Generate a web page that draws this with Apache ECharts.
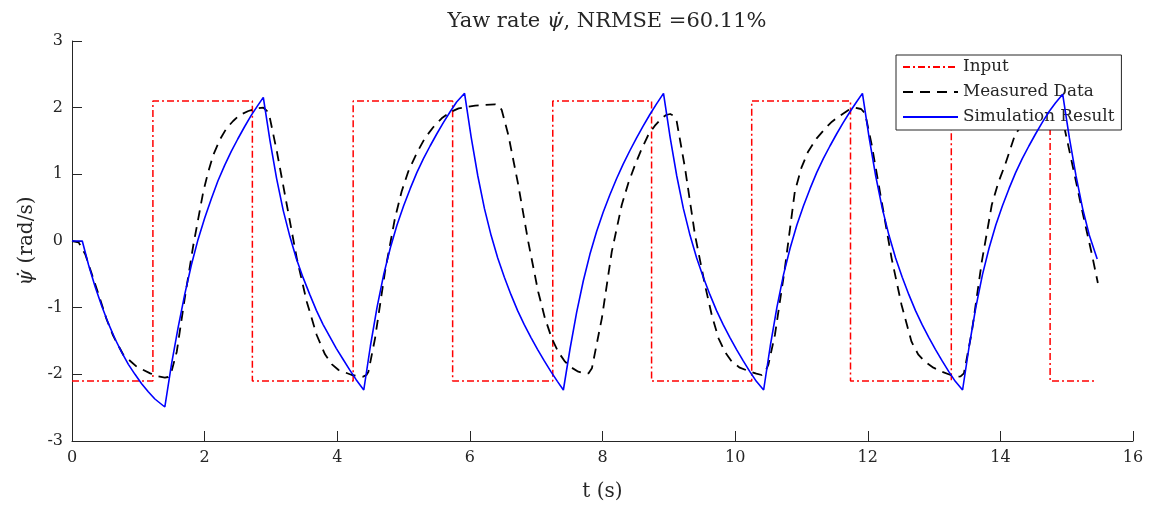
<!DOCTYPE html>
<html>
<head>
<meta charset="utf-8">
<title>Yaw rate</title>
<script src="https://cdn.jsdelivr.net/npm/echarts@6/dist/echarts.min.js"></script>
<style>
  html, body { margin: 0; padding: 0; background: #fff; }
  #chart { width: 1151px; height: 509px; }
</style>
</head>
<body>
<div id="chart"></div>
<script>
// Steering input: square wave of ±2.1, [switch time (s), new level]
const inputSteps = [
  [0, -2.1], [1.22, 2.1], [2.72, -2.1], [4.24, 2.1], [5.74, -2.1],
  [7.25, 2.1], [8.74, -2.1], [10.25, 2.1], [11.74, -2.1], [13.26, 2.1],
  [14.75, -2.1], [15.44, -2.1]
];

// Measured yaw rate, [t (s), rad/s]
const measuredData = [
  [0, 0], [0.1, -0.02], [0.2, -0.2], [0.3, -0.5], [0.42, -0.86], [0.52, -1.17],
  [0.62, -1.42], [0.775, -1.71], [0.975, -1.885], [1.18, -1.985], [1.3, -2.03],
  [1.4, -2.05], [1.45, -2.04], [1.5, -1.96], [1.58, -1.66], [1.7, -0.86],
  [1.83, -0.06], [1.98, 0.74], [2.05, 1.02], [2.13, 1.29], [2.23, 1.52],
  [2.33, 1.69], [2.43, 1.8], [2.53, 1.89], [2.66, 1.95], [2.785, 1.99],
  [2.885, 2.0], [2.94, 1.95], [2.985, 1.84], [3.09, 1.34], [3.24, 0.54],
  [3.39, -0.26], [3.54, -0.91], [3.69, -1.41], [3.815, -1.7], [3.92, -1.85],
  [4.02, -1.935], [4.22, -2.01], [4.39, -2.035], [4.44, -2.01], [4.47, -1.96],
  [4.57, -1.46], [4.72, -0.46], [4.87, 0.34], [4.97, 0.74], [5.07, 1.04],
  [5.2, 1.32], [5.32, 1.54], [5.45, 1.71], [5.575, 1.84], [5.7, 1.93],
  [5.83, 1.99], [6.08, 2.03], [6.38, 2.05], [6.44, 2.03], [6.48, 1.965],
  [6.58, 1.59], [6.73, 0.84], [6.88, -0.01], [7.03, -0.76], [7.13, -1.15],
  [7.235, -1.46], [7.33, -1.66], [7.435, -1.81], [7.535, -1.9], [7.635, -1.96],
  [7.73, -1.99], [7.79, -1.985], [7.84, -1.91], [7.99, -1.16], [8.14, -0.16],
  [8.29, 0.54], [8.39, 0.87], [8.49, 1.14], [8.59, 1.38], [8.69, 1.59],
  [8.79, 1.73], [8.89, 1.84], [8.96, 1.89], [9.02, 1.905], [9.07, 1.88],
  [9.12, 1.79], [9.245, 1.09], [9.395, 0.09], [9.545, -0.66], [9.65, -1.12],
  [9.75, -1.46], [9.85, -1.67], [9.95, -1.81], [10.07, -1.9], [10.2, -1.95],
  [10.32, -1.99], [10.4, -2.01], [10.45, -1.97], [10.5, -1.86], [10.6, -1.41],
  [10.75, -0.41], [10.9, 0.74], [11.0, 1.1], [11.1, 1.34], [11.23, 1.54],
  [11.36, 1.69], [11.46, 1.79], [11.56, 1.865], [11.71, 1.965], [11.81, 2.0],
  [11.9, 1.98], [11.96, 1.915], [12.06, 1.44], [12.21, 0.59], [12.36, -0.26],
  [12.51, -0.96], [12.66, -1.51], [12.76, -1.7], [12.86, -1.81], [12.99, -1.9],
  [13.12, -1.96], [13.25, -2.01], [13.35, -2.035], [13.4, -2.03], [13.45, -1.985],
  [13.57, -1.36], [13.72, -0.31], [13.87, 0.54], [13.97, 0.88], [14.07, 1.14],
  [14.22, 1.59], [14.32, 1.74], [14.42, 1.84], [14.52, 1.9], [14.62, 1.95],
  [14.72, 1.98], [14.8, 2.0], [14.86, 1.97], [14.9, 1.92], [14.97, 1.68],
  [15.1, 1.08], [15.25, 0.38], [15.38, -0.2], [15.47, -0.63]
];

// Simulated yaw rate, [t (s), rad/s]
const simulationData = [
  [0, 0], [0.155, 0],
  [0.25, -0.36], [0.35, -0.69], [0.45, -0.98], [0.55, -1.24], [0.65, -1.47],
  [0.75, -1.67], [0.85, -1.85], [0.95, -2.0], [1.05, -2.14], [1.15, -2.26],
  [1.25, -2.37], [1.4, -2.49],
  [1.5, -1.85], [1.6, -1.3], [1.7, -0.8], [1.8, -0.36], [1.9, 0.02], [2.0, 0.34],
  [2.1, 0.63], [2.2, 0.9], [2.3, 1.13], [2.4, 1.34], [2.5, 1.53], [2.6, 1.71],
  [2.7, 1.88], [2.8, 2.03], [2.885, 2.155],
  [2.985, 1.51], [3.085, 0.94], [3.185, 0.46], [3.285, 0.07], [3.385, -0.27],
  [3.485, -0.55], [3.585, -0.8], [3.685, -1.04], [3.785, -1.25], [3.885, -1.43],
  [3.985, -1.61], [4.085, -1.77], [4.185, -1.93], [4.285, -2.08], [4.4, -2.235],
  [4.5, -1.575], [4.6, -0.995], [4.7, -0.505], [4.8, -0.105], [4.9, 0.235],
  [5.0, 0.525], [5.1, 0.785], [5.2, 1.025], [5.3, 1.235], [5.4, 1.425],
  [5.5, 1.605], [5.6, 1.775], [5.7, 1.935], [5.8, 2.085], [5.92, 2.215],
  [6.02, 1.555], [6.12, 0.975], [6.22, 0.485], [6.32, 0.085], [6.42, -0.255],
  [6.52, -0.545], [6.62, -0.805], [6.72, -1.045], [6.82, -1.255], [6.92, -1.445],
  [7.02, -1.625], [7.12, -1.795], [7.22, -1.955], [7.32, -2.105], [7.41, -2.235],
  [7.51, -1.62], [7.61, -1.07], [7.71, -0.6], [7.81, -0.2], [7.91, 0.14],
  [8.01, 0.43], [8.11, 0.69], [8.21, 0.93], [8.31, 1.15], [8.41, 1.35],
  [8.51, 1.54], [8.61, 1.72], [8.71, 1.89], [8.81, 2.05], [8.92, 2.215],
  [9.02, 1.555], [9.12, 0.975], [9.22, 0.485], [9.32, 0.085], [9.42, -0.255],
  [9.52, -0.545], [9.62, -0.805], [9.72, -1.045], [9.82, -1.255], [9.92, -1.445],
  [10.02, -1.625], [10.12, -1.795], [10.22, -1.955], [10.32, -2.105], [10.43, -2.235],
  [10.53, -1.575], [10.63, -0.995], [10.73, -0.505], [10.83, -0.105], [10.93, 0.235],
  [11.03, 0.525], [11.13, 0.785], [11.23, 1.025], [11.33, 1.235], [11.43, 1.425],
  [11.53, 1.605], [11.63, 1.775], [11.73, 1.935], [11.83, 2.085], [11.92, 2.215],
  [12.02, 1.555], [12.12, 0.975], [12.22, 0.485], [12.32, 0.085], [12.42, -0.255],
  [12.52, -0.545], [12.62, -0.805], [12.72, -1.045], [12.82, -1.255], [12.92, -1.445],
  [13.02, -1.625], [13.12, -1.795], [13.22, -1.955], [13.32, -2.105], [13.43, -2.235],
  [13.53, -1.575], [13.63, -0.995], [13.73, -0.505], [13.83, -0.105], [13.93, 0.235],
  [14.03, 0.525], [14.13, 0.785], [14.23, 1.025], [14.33, 1.235], [14.43, 1.425],
  [14.53, 1.605], [14.63, 1.775], [14.73, 1.935], [14.83, 2.07], [14.94, 2.2],
  [15.04, 1.55], [15.14, 0.98], [15.24, 0.49], [15.34, 0.09], [15.46, -0.27]
];

const seriesNames = ['Input', 'Measured Data', 'Simulation Result'];

const FONT = '"DejaVu Serif", "Liberation Serif", serif';
const INK = '#262626';
const italicPsi = { fontFamily: FONT, fontStyle: 'italic', color: INK };

const chart = echarts.init(document.getElementById('chart'), null, { renderer: 'canvas' });

chart.setOption({
  animation: false,
  backgroundColor: '#ffffff',
  title: {
    text: 'Yaw rate {i|ψ̇}, NRMSE =60.11%',
    left: 602,
    top: 6,
    textAlign: 'center',
    textStyle: {
      fontFamily: FONT, fontSize: 21, fontWeight: 'normal', color: INK,
      rich: { i: Object.assign({ fontSize: 21 }, italicPsi) }
    }
  },
  grid: { left: 72, top: 41, width: 1061, height: 400, containLabel: false },
  legend: {
    orient: 'vertical',
    left: 896,
    top: 55,
    selectedMode: false,
    backgroundColor: '#ffffff',
    borderColor: INK,
    borderWidth: 1,
    borderRadius: 0,
    padding: [3, 7, 4, 6],
    itemWidth: 55,
    itemHeight: 18,
    itemGap: 7,
    itemStyle: { opacity: 0 },
    textStyle: { fontFamily: FONT, fontSize: 16.8, color: INK, lineHeight: 18 },
    data: seriesNames
  },
  xAxis: {
    type: 'value',
    min: 0, max: 16, interval: 2,
    name: 't (s)',
    nameLocation: 'middle',
    nameGap: 41,
    nameTextStyle: { fontFamily: FONT, fontSize: 20, color: INK },
    axisLine: { show: true, onZero: false, lineStyle: { color: INK, width: 1 } },
    axisTick: { show: true, inside: true, length: 10, lineStyle: { color: INK } },
    axisLabel: { fontFamily: FONT, fontSize: 16, color: INK, margin: 9 },
    splitLine: { show: false }
  },
  yAxis: {
    type: 'value',
    min: -3, max: 3, interval: 1,
    name: '{i|ψ̇} (rad/s)',
    nameLocation: 'middle',
    nameGap: 22,
    nameRotate: 90,
    nameTextStyle: {
      fontFamily: FONT, fontSize: 20, color: INK,
      rich: { i: Object.assign({ fontSize: 20 }, italicPsi) }
    },
    axisLine: { show: true, onZero: false, lineStyle: { color: INK, width: 1 } },
    axisTick: { show: true, inside: true, length: 10, lineStyle: { color: INK } },
    axisLabel: { fontFamily: FONT, fontSize: 16, color: INK, margin: 9 },
    splitLine: { show: false }
  },
  series: [
    {
      name: seriesNames[0],
      type: 'line',
      step: 'end',
      symbol: 'none',
      data: inputSteps,
      lineStyle: { color: '#ff0000', width: 1.5, type: [7, 3, 2, 3] },
      itemStyle: { color: '#ff0000' },
      z: 2
    },
    {
      name: seriesNames[1],
      type: 'line',
      symbol: 'none',
      smooth: false,
      data: measuredData,
      lineStyle: { color: '#000000', width: 1.8, type: [10, 7], join: 'round' },
      itemStyle: { color: '#000000' },
      z: 3
    },
    {
      name: seriesNames[2],
      type: 'line',
      symbol: 'none',
      data: simulationData,
      lineStyle: { color: '#0000ff', width: 1.6 },
      itemStyle: { color: '#0000ff' },
      z: 4
    }
  ]
});
</script>
</body>
</html>
